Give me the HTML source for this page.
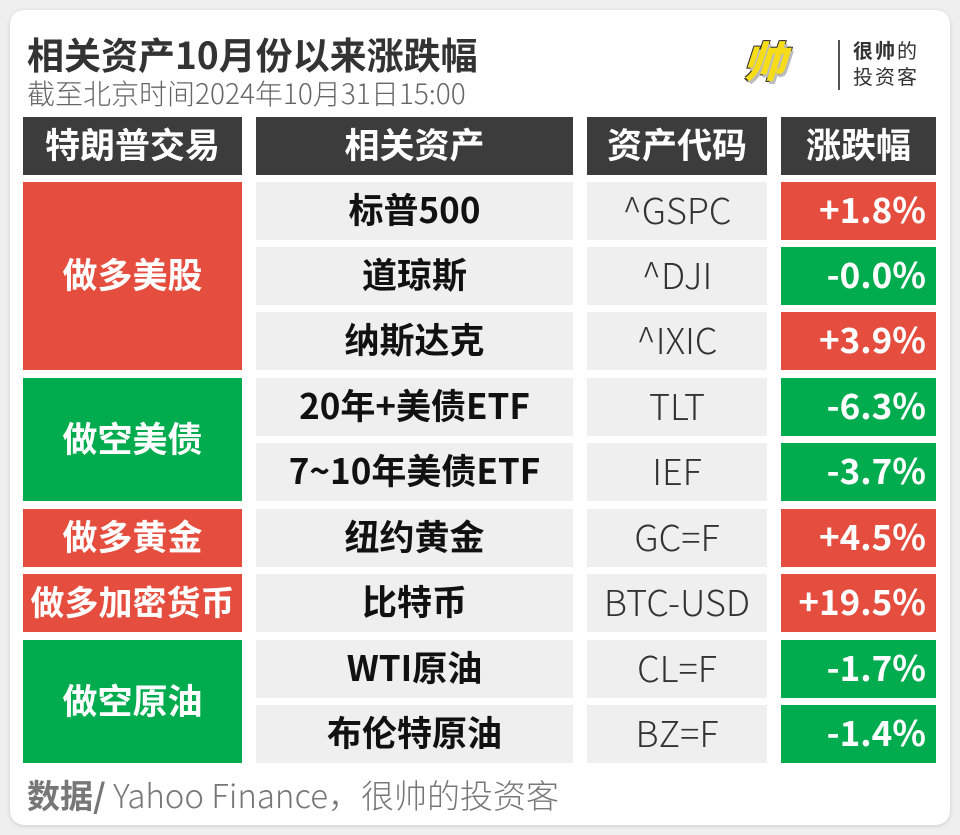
<!DOCTYPE html>
<html><head><meta charset="utf-8"><style>
body{margin:0;width:960px;height:835px;background:#efefef;font-family:"Noto Sans CJK SC",sans-serif;position:relative;overflow:hidden}
.card{position:absolute;left:10px;top:10px;width:940px;height:815px;background:#fff;border-radius:14px;box-shadow:0 1px 4px rgba(0,0,0,.15)}
.a{position:absolute;display:flex;align-items:center;justify-content:center;box-sizing:border-box;line-height:1;padding-bottom:5px}
.h{background:#3c3c3c;color:#fff;font-weight:bold;font-size:35px}
.g{background:#efefef;color:#111;font-size:35px}
.t{font-weight:300;color:#333;font-size:36px}
.b{font-weight:bold}
.r{background:#e54d3e;color:#fff;font-weight:bold;font-size:35px}
.gr{background:#00ac4e;color:#fff;font-weight:bold;font-size:35px}
.v{justify-content:flex-end;padding-right:10px}
</style></head><body>
<div class="card"></div>
<div style="position:absolute;left:27px;top:28px;font-size:37px;font-weight:bold;color:#333;line-height:50px;white-space:nowrap">相关资产10月份以来涨跌幅</div>
<div style="position:absolute;left:27px;top:76px;font-size:28px;color:#666;line-height:34px;font-weight:300;white-space:nowrap">截至北京时间2024年10月31日15:00</div>
<div style="position:absolute;left:748px;top:34px;font-size:42px;font-weight:900;color:#f7dc1a;transform:skewX(-18deg);text-shadow:3px 3px 0 #bbb,-1px -1px 0 #333,1px 1px 0 #333,1px -1px 0 #333,-1px 1px 0 #333;line-height:52px">帅</div>
<div style="position:absolute;left:838px;top:40px;width:2px;height:50px;background:#555"></div>
<div style="position:absolute;left:853px;top:37px;font-size:20px;color:#333;line-height:26px;letter-spacing:2px"><b>很帅</b>的<br>投资客</div>

<div class="a h" style="left:23px;top:117px;width:219px;height:58px">特朗普交易</div>
<div class="a h" style="left:256px;top:117px;width:317px;height:58px">相关资产</div>
<div class="a h" style="left:587px;top:117px;width:180px;height:58px">资产代码</div>
<div class="a h" style="left:781px;top:117px;width:155px;height:58px">涨跌幅</div>

<div class="a r" style="left:23px;top:182px;width:219px;height:188px">做多美股</div>
<div class="a gr" style="left:23px;top:378px;width:219px;height:123px">做空美债</div>
<div class="a r" style="left:23px;top:509px;width:219px;height:58px">做多黄金</div>
<div class="a r" style="left:23px;top:574px;width:219px;height:58px;font-size:34px">做多加密货币</div>
<div class="a gr" style="left:23px;top:640px;width:219px;height:123px">做空原油</div>

<div class="a g b" style="left:256px;top:182px;width:317px;height:58px">标普500</div>
<div class="a g b" style="left:256px;top:247px;width:317px;height:58px">道琼斯</div>
<div class="a g b" style="left:256px;top:312px;width:317px;height:58px">纳斯达克</div>
<div class="a g b" style="left:256px;top:378px;width:317px;height:58px">20年+美债ETF</div>
<div class="a g b" style="left:256px;top:443px;width:317px;height:58px">7~10年美债ETF</div>
<div class="a g b" style="left:256px;top:509px;width:317px;height:58px">纽约黄金</div>
<div class="a g b" style="left:256px;top:574px;width:317px;height:58px">比特币</div>
<div class="a g b" style="left:256px;top:640px;width:317px;height:58px">WTI原油</div>
<div class="a g b" style="left:256px;top:705px;width:317px;height:58px">布伦特原油</div>

<div class="a g t" style="left:587px;top:182px;width:180px;height:58px">^GSPC</div>
<div class="a g t" style="left:587px;top:247px;width:180px;height:58px">^DJI</div>
<div class="a g t" style="left:587px;top:312px;width:180px;height:58px">^IXIC</div>
<div class="a g t" style="left:587px;top:378px;width:180px;height:58px">TLT</div>
<div class="a g t" style="left:587px;top:443px;width:180px;height:58px">IEF</div>
<div class="a g t" style="left:587px;top:509px;width:180px;height:58px">GC=F</div>
<div class="a g t" style="left:587px;top:574px;width:180px;height:58px">BTC-USD</div>
<div class="a g t" style="left:587px;top:640px;width:180px;height:58px">CL=F</div>
<div class="a g t" style="left:587px;top:705px;width:180px;height:58px">BZ=F</div>

<div class="a r v" style="left:781px;top:182px;width:155px;height:58px">+1.8%</div>
<div class="a gr v" style="left:781px;top:247px;width:155px;height:58px">-0.0%</div>
<div class="a r v" style="left:781px;top:312px;width:155px;height:58px">+3.9%</div>
<div class="a gr v" style="left:781px;top:378px;width:155px;height:58px">-6.3%</div>
<div class="a gr v" style="left:781px;top:443px;width:155px;height:58px">-3.7%</div>
<div class="a r v" style="left:781px;top:509px;width:155px;height:58px">+4.5%</div>
<div class="a r v" style="left:781px;top:574px;width:155px;height:58px">+19.5%</div>
<div class="a gr v" style="left:781px;top:640px;width:155px;height:58px">-1.7%</div>
<div class="a gr v" style="left:781px;top:705px;width:155px;height:58px">-1.4%</div>

<div style="position:absolute;left:27px;top:773px;font-size:33px;color:#777;line-height:42px;font-weight:300;white-space:nowrap"><b style="font-weight:bold">数据/</b> Yahoo Finance，很帅的投资客</div>
</body></html>
